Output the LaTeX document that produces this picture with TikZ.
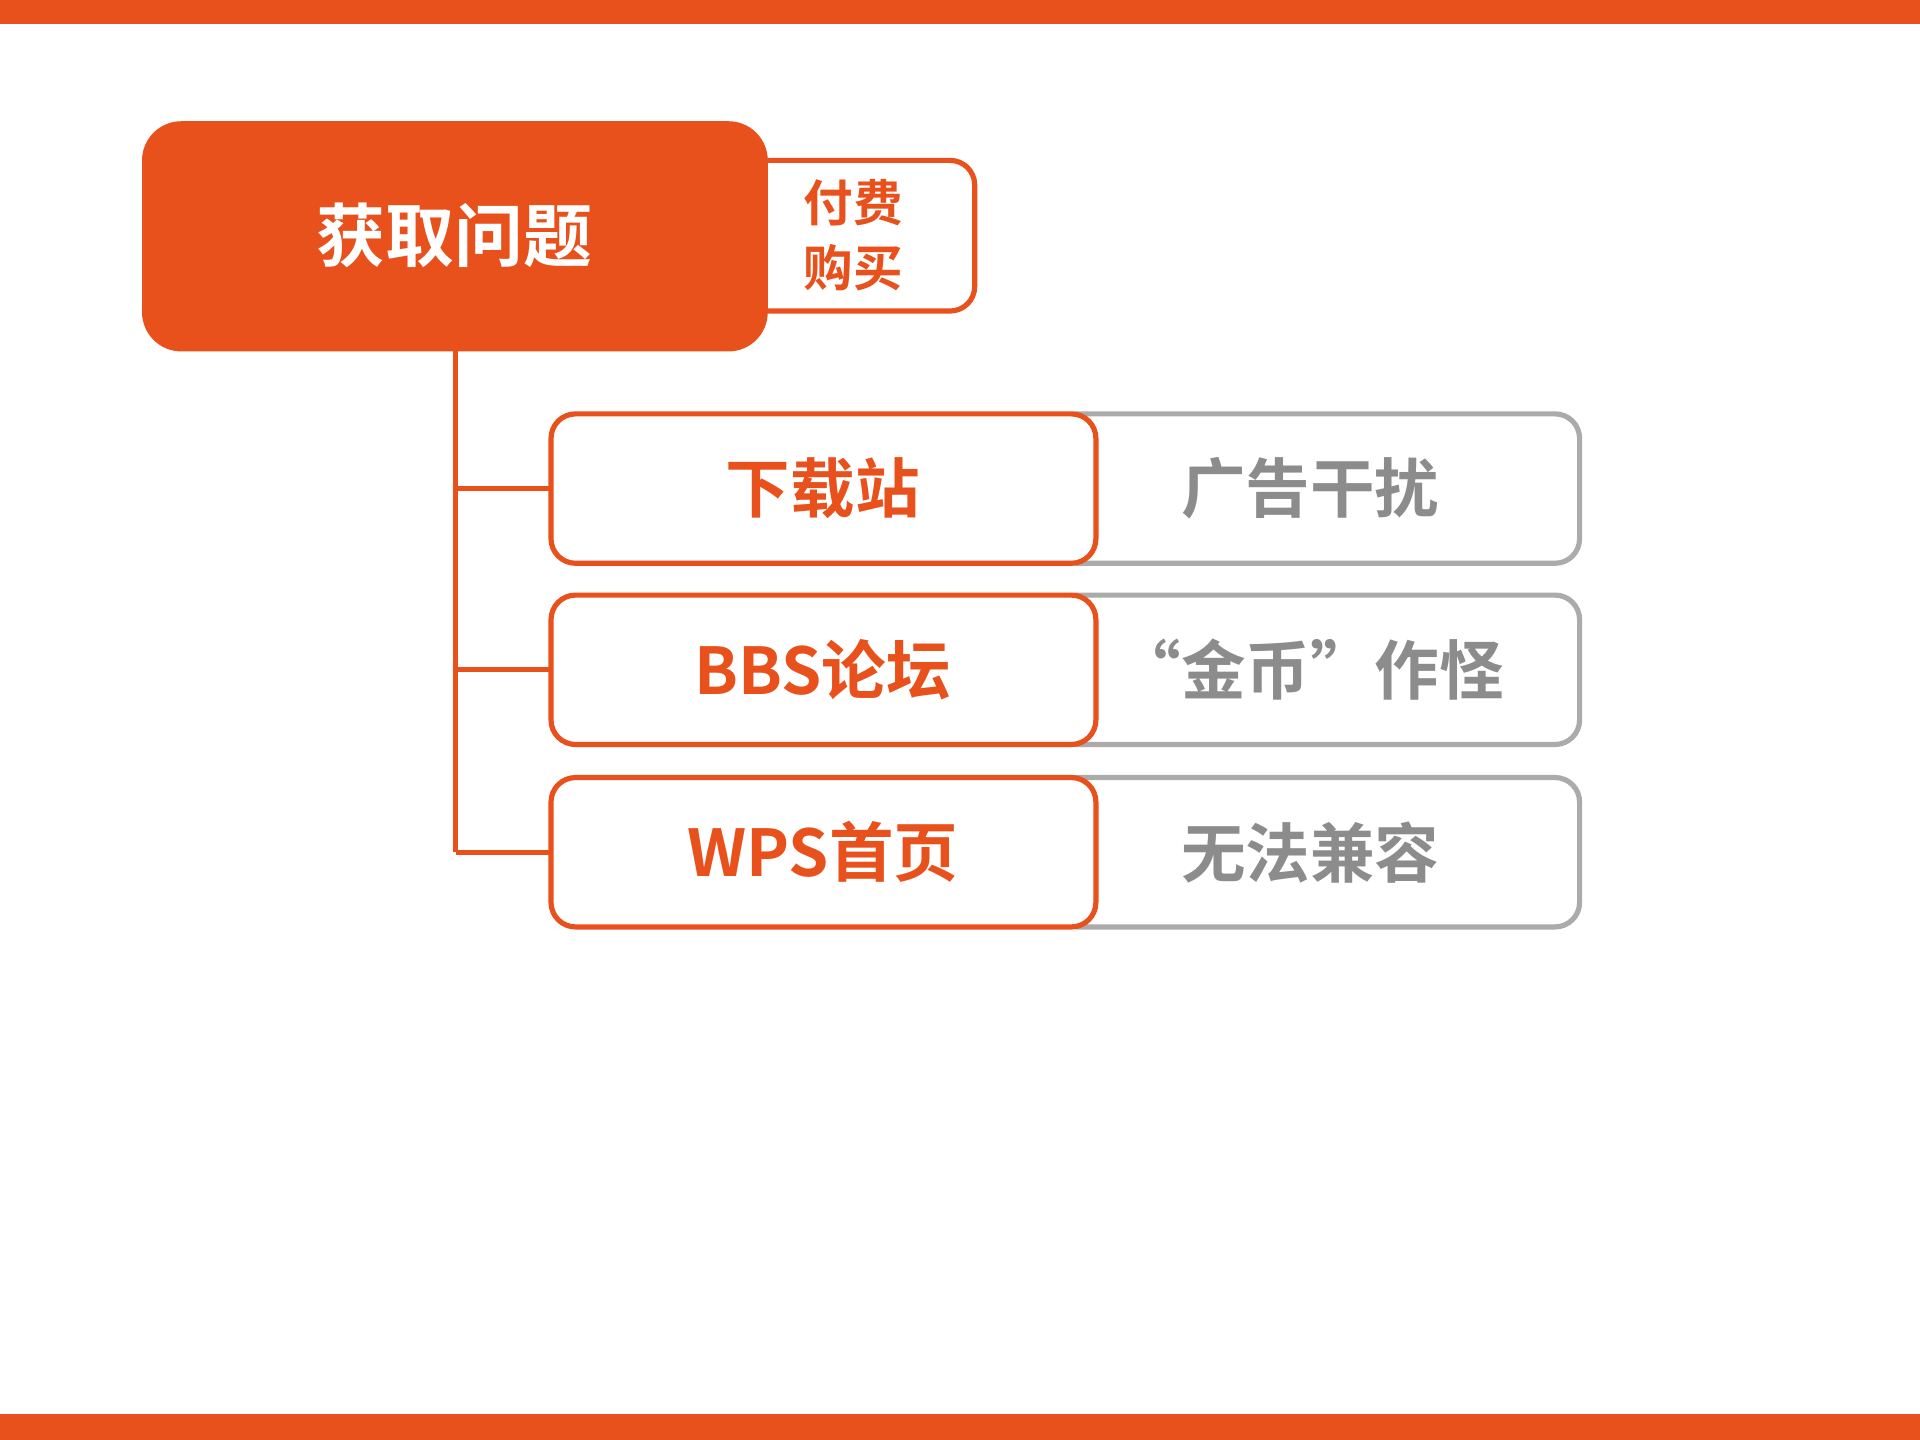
\documentclass[tikz,border=0pt]{standalone}
\usepackage{fontspec}
\newfontfamily\cjk{Noto Sans CJK SC Bold}
\definecolor{org}{HTML}{E8501C}
\definecolor{gry}{HTML}{ABABAB}
\definecolor{gtx}{HTML}{8C8C8C}
\begin{document}
\begin{tikzpicture}[x=0.01cm,y=-0.01cm,
  obox/.style={draw=org,line width=1.2pt,fill=white,rounded corners=0.2cm},
  gbox/.style={draw=gry,line width=1.2pt,fill=white,rounded corners=0.2cm},
  otxt/.style={text=org,font=\cjk\fontsize{15}{18}\selectfont},
  gtxt/.style={text=gtx,font=\cjk\fontsize{15}{18}\selectfont},
  link/.style={draw=org,line width=1.2pt}]
\useasboundingbox (0,0) rectangle (1568,1176);
\fill[org] (0,0) rectangle (1568,20);
\fill[org] (0,1155) rectangle (1568,1176);
% side box
\draw[obox] (580,131) rectangle (796,254);
\node[otxt,font=\cjk\fontsize{11.5}{15}\selectfont,align=center] (side) at (697,192) {付费\\购买};
% main
\fill[org,rounded corners=0.32cm] (116,99) rectangle (627,287);
\node[text=white,font=\cjk\fontsize{16}{19}\selectfont] (main) at (371,192) {获取问题};
\coordinate (root) at (372,287);
\foreach \y/\a/\b/\n in {399/下载站/广告干扰/r1,547/BBS论坛/“金币”作怪/r2,696/WPS首页/无法兼容/r3}{
  \draw[gbox] (860,\y-61) rectangle (1290,\y+61);
  \draw[obox] (450,\y-61) rectangle (895,\y+61);
  \node[otxt] (\n a) at (672,\y) {\a};
  \node[gtxt] (\n b) at (1070,\y) {\b};
  \coordinate (\n) at (450,\y);
  \draw[link] (372,\y) -- (\n);
}
\draw[link] (root) -- (372,696);
\end{tikzpicture}
\end{document}
